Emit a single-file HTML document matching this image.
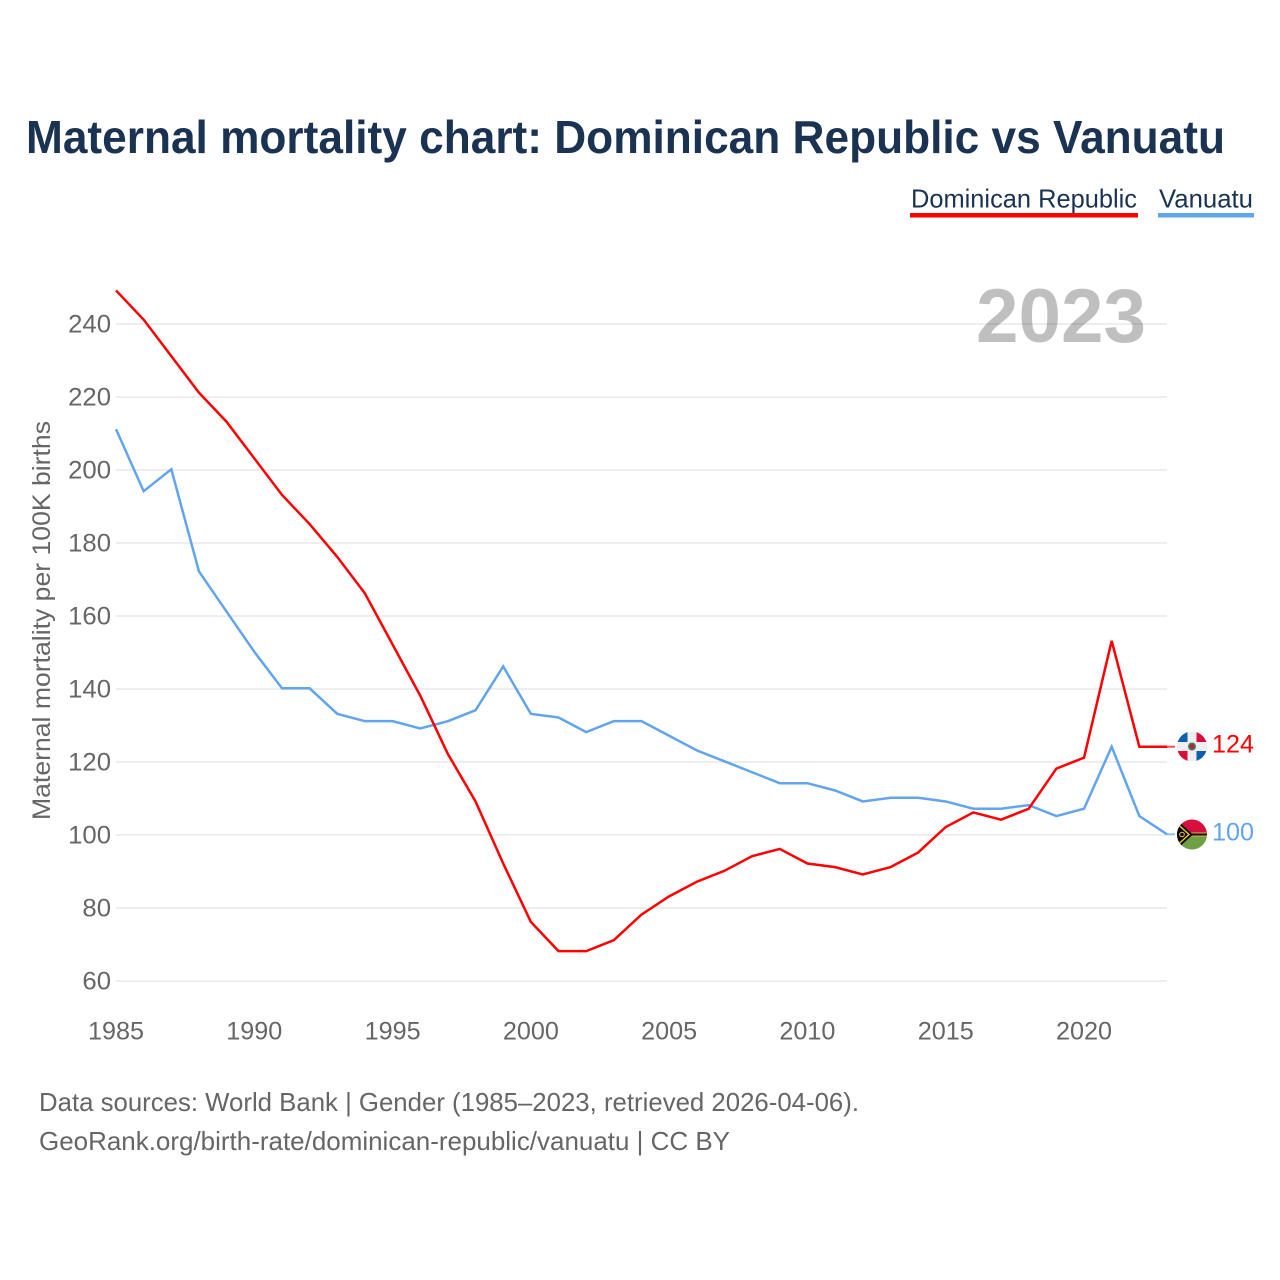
<!DOCTYPE html>
<html lang="en">
<head>
<meta charset="utf-8">
<title>Maternal mortality chart: Dominican Republic vs Vanuatu</title>
<style>
html,body{margin:0;padding:0;background:#fff;width:1280px;height:1280px;overflow:hidden}
svg{display:block;font-family:"Liberation Sans",sans-serif}
</style>
</head>
<body>
<svg id="chart" xmlns="http://www.w3.org/2000/svg" width="1280" height="1280" viewBox="0 0 1280 1280">
  <defs>
    <clipPath id="clip-dr"><circle cx="1192" cy="746.500" r="15"/></clipPath>
    <clipPath id="clip-vu"><circle cx="1192" cy="834.500" r="15"/></clipPath>
  </defs>
  <text x="26" y="153" font-size="46" font-weight="700" fill="#1a3353" textLength="1199" lengthAdjust="spacingAndGlyphs">Maternal mortality chart: Dominican Republic vs Vanuatu</text>

  <g>
    <g>
      <text x="911" y="207.500" font-size="26" fill="#1a3353" textLength="226" lengthAdjust="spacingAndGlyphs">Dominican Republic</text>
      <rect x="910" y="213" width="228" height="4.500" fill="#ff0000"/>
    </g>
    <g>
      <text x="1159" y="207.500" font-size="26" fill="#1a3353" textLength="94" lengthAdjust="spacingAndGlyphs">Vanuatu</text>
      <rect x="1158" y="213" width="96" height="4.500" fill="#61a5ee"/>
    </g>
  </g>

  <g id="grid"></g>
  <g id="yticks"></g>
  <g id="xticks"></g>

  <text x="976" y="342" font-size="76" font-weight="700" fill="#000" fill-opacity="0.25" textLength="170" lengthAdjust="spacingAndGlyphs">2023</text>

  <text transform="translate(50,820) rotate(-90)" x="0" y="0" font-size="25" fill="#666" textLength="399" lengthAdjust="spacingAndGlyphs">Maternal mortality per 100K births</text>

  <g id="series"></g>

  <g clip-path="url(#clip-dr)">
    <rect x="1177" y="731.500" width="30" height="30" fill="#eeeeee"/>
    <rect x="1177" y="731.500" width="10.500" height="10.500" fill="#0f5fb0"/>
    <rect x="1196.500" y="731.500" width="10.500" height="10.500" fill="#d80f3c"/>
    <rect x="1177" y="751" width="10.500" height="10.500" fill="#d80f3c"/>
    <rect x="1196.500" y="751" width="10.500" height="10.500" fill="#0f5fb0"/>
    <circle cx="1192" cy="746.500" r="4" fill="#3f7f6a"/>
    <circle cx="1192" cy="746.500" r="2.500" fill="#b8203c"/>
  </g>
  <g clip-path="url(#clip-vu)">
    <rect x="1177" y="819" width="30" height="15" fill="#d80f3c"/>
    <rect x="1177" y="835" width="30" height="15" fill="#6fa044"/>
    <rect x="1177" y="833" width="30" height="3" fill="#1a1a1a"/>
    <rect x="1189" y="832.500" width="18" height="0.900" fill="#e8c040"/>
    <rect x="1189" y="835.600" width="18" height="0.900" fill="#e8c040"/>
    <polygon points="1177,820 1193,834.500 1177,849" fill="#000"/>
    <polyline points="1177,823.500 1189,834.500 1177,845.500" fill="none" stroke="#f5c518" stroke-width="1.500"/>
    <circle cx="1182" cy="834.500" r="2.300" fill="none" stroke="#f5c518" stroke-width="1"/>
  </g>

  <text x="1212" y="752.500" font-size="25" fill="#ff0000" textLength="42" lengthAdjust="spacingAndGlyphs">124</text>
  <text x="1212" y="840.500" font-size="25" fill="#61a5ee" textLength="42" lengthAdjust="spacingAndGlyphs">100</text>

  <g>
    <text x="39" y="1111" font-size="26" fill="#666" textLength="820" lengthAdjust="spacingAndGlyphs">Data sources: World Bank | Gender (1985–2023, retrieved 2026-04-06).</text>
    <text x="39" y="1150" font-size="26" fill="#666" textLength="691" lengthAdjust="spacingAndGlyphs">GeoRank.org/birth-rate/dominican-republic/vanuatu | CC BY</text>
  </g>
</svg>
<script>
const years = [1985,1986,1987,1988,1989,1990,1991,1992,1993,1994,1995,1996,1997,1998,1999,2000,2001,2002,2003,2004,2005,2006,2007,2008,2009,2010,2011,2012,2013,2014,2015,2016,2017,2018,2019,2020,2021,2022,2023];
const dominicanRepublic = [249,241,231,221,213,203,193,185,176,166,152,138,122,109,92,76,68,68,71,78,83,87,90,94,96,92,91,89,91,95,102,106,104,107,118,121,153,124,124];
const vanuatu = [211,194,200,172,161,150,140,140,133,131,131,129,131,134,146,133,132,128,131,131,127,123,120,117,114,114,112,109,110,110,109,107,107,108,105,107,124,105,100];
const yTickValues = [60,80,100,120,140,160,180,200,220,240];
const xTickValues = [1985,1990,1995,2000,2005,2010,2015,2020];

const NS = 'http://www.w3.org/2000/svg';
function xScale(year){ return 116 + (year - 1985) * (1167 - 116) / (2023 - 1985); }
function yScale(value){ return 981 - (value - 60) * (981 - 324) / (240 - 60); }
function make(tag, attrs, parent){
  const el = document.createElementNS(NS, tag);
  for (const k in attrs) el.setAttribute(k, attrs[k]);
  parent.appendChild(el);
  return el;
}
const gridGroup = document.getElementById('grid');
const yGroup = document.getElementById('yticks');
const xGroup = document.getElementById('xticks');
const seriesGroup = document.getElementById('series');

yTickValues.forEach(function(v){
  const line = make('line', {x1:116, x2:1167, y1:yScale(v), y2:yScale(v), stroke:'#eeeeee', 'stroke-width':2}, gridGroup);
  
  
  const label = make('text', {x:111 - String(v).length * 14.3, y:yScale(v) + 8.500, 'font-size':25, fill:'#666', textLength:String(v).length * 14.3, lengthAdjust:'spacingAndGlyphs'}, yGroup);
  label.textContent = v;
  
  
});

xTickValues.forEach(function(v){
  const label = make('text', {x:xScale(v) - 28, y:1039.500, 'font-size':25, fill:'#666', textLength:56, lengthAdjust:'spacingAndGlyphs'}, xGroup);
  label.textContent = v;
  
  
});

function drawSeries(values, color, name){
  const pts = values.map(function(v, i){ return xScale(years[i]).toFixed(2) + ',' + (yScale(v) - 0.7).toFixed(2); }).join(' ');
  const lastY = yScale(values[values.length - 1]) - 0.7;
  const connector = make('line', {x1:xScale(2023), x2:1175, y1:lastY, y2:lastY, stroke:color, 'stroke-width':2, 'stroke-opacity':0.7}, seriesGroup);
  
  
  const line = make('polyline', {points:pts, fill:'none', stroke:color, 'stroke-width':2.5, 'stroke-linejoin':'miter'}, seriesGroup);
  
  
}
drawSeries(vanuatu, '#61a5ee', 'vanuatu');
drawSeries(dominicanRepublic, '#ff0000', 'dominican-republic');
</script>
</body>
</html>
